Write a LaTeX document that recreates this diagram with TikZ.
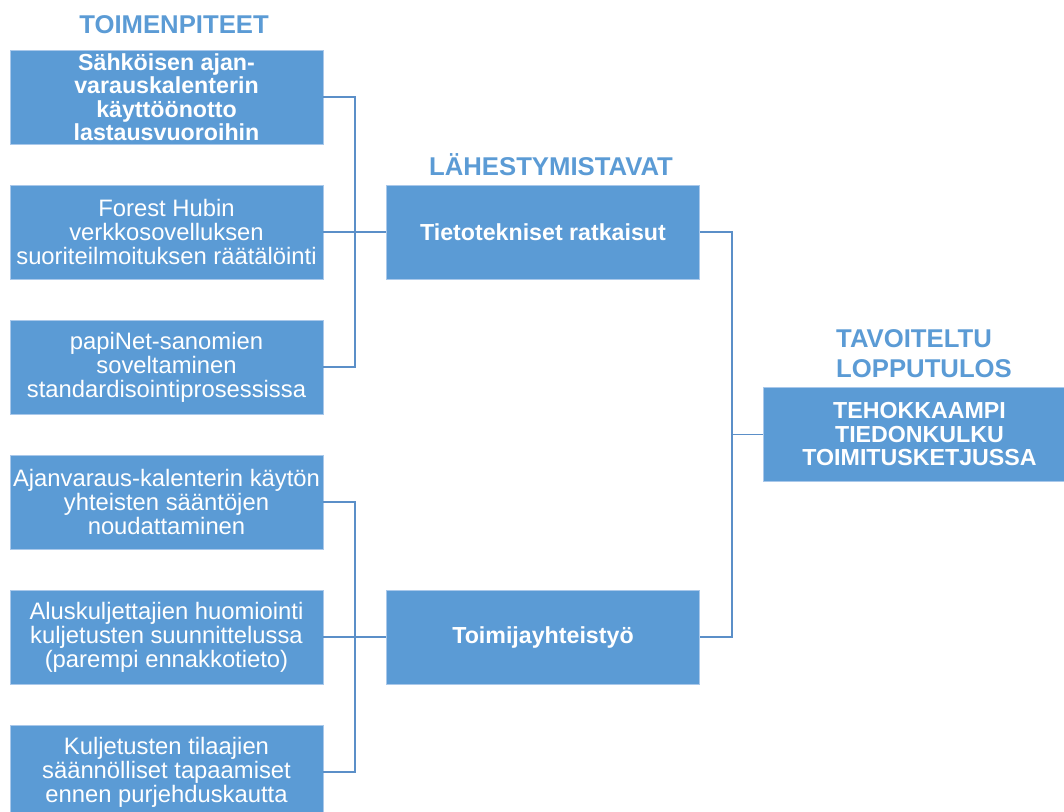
\documentclass[tikz,border=0pt]{standalone}
\usepackage{fontspec}
\setmainfont{Liberation Sans}
\definecolor{boxblue}{HTML}{5B9BD5}
\definecolor{boxedge}{HTML}{A9C8EA}
\definecolor{linkblue}{HTML}{5B8FC8}
\begin{document}
\begin{tikzpicture}[x=1pt,y=-1pt,
  card/.style={fill=boxblue,draw=boxedge,line width=0.8pt,minimum width=313pt,
    minimum height=94pt,inner sep=1pt,text=white,align=center,
    font=\fontsize{23.8}{24}\selectfont},
  boldcard/.style={card,font=\fontsize{23.2}{23.5}\selectfont\bfseries},
  heading/.style={text=boxblue,font=\fontsize{25.7}{30}\selectfont\bfseries,inner sep=0pt},
  link/.style={draw=linkblue,line width=1.1pt}]
\useasboundingbox (0,0) rectangle (1064,811);

% headings
\node[heading] (h1) at (174,25) {TOIMENPITEET};
\node[heading] (h2) at (551,165) {LÄHESTYMISTAVAT};
\node[heading,align=left,anchor=north west] (h3) at (836,329) {TAVOITELTU\\LOPPUTULOS};

% measures
\node[boldcard] (a1) at (166.5,97) {Sähköisen ajan-\\varauskalenterin\\käyttöönotto\\lastausvuoroihin};
\node[card] (a2) at (166.5,232) {Forest Hubin\\verkkosovelluksen\\suoriteilmoituksen räätälöinti};
\node[card] (a3) at (166.5,367) {papiNet-sanomien\\soveltaminen\\standardisointiprosessissa};
\node[card] (a4) at (166.5,502) {Ajanvaraus-kalenterin käytön\\yhteisten sääntöjen\\noudattaminen};
\node[card] (a5) at (166.5,637) {Aluskuljettajien huomiointi\\kuljetusten suunnittelussa\\(parempi ennakkotieto)};
\node[card] (a6) at (166.5,772) {Kuljetusten tilaajien\\säännölliset tapaamiset\\ennen purjehduskautta};

% approaches
\node[card,font=\fontsize{23.2}{24}\selectfont\bfseries] (m1) at (543,232) {Tietotekniset ratkaisut};
\node[card,font=\fontsize{23.2}{24}\selectfont\bfseries] (m2) at (543,637) {Toimijayhteistyö};

% target outcome
\node[boldcard] (r) at (919.5,434.5) {TEHOKKAAMPI\\TIEDONKULKU\\TOIMITUSKETJUSSA};

% junction points
\coordinate (j1) at (355,232);
\coordinate (j2) at (355,637);
\coordinate (j3) at (732,434.5);

% connectors
\path[link] (a1.east) -| (j1) |- (a3.east);
\path[link] (a2.east) -- (m1.west);
\path[link] (a4.east) -| (j2) |- (a6.east);
\path[link] (a5.east) -- (m2.west);
\path[link] (m1.east) -| (j3) |- (m2.east);
\path[link] (j3) -- (r.west);
\end{tikzpicture}
\end{document}
